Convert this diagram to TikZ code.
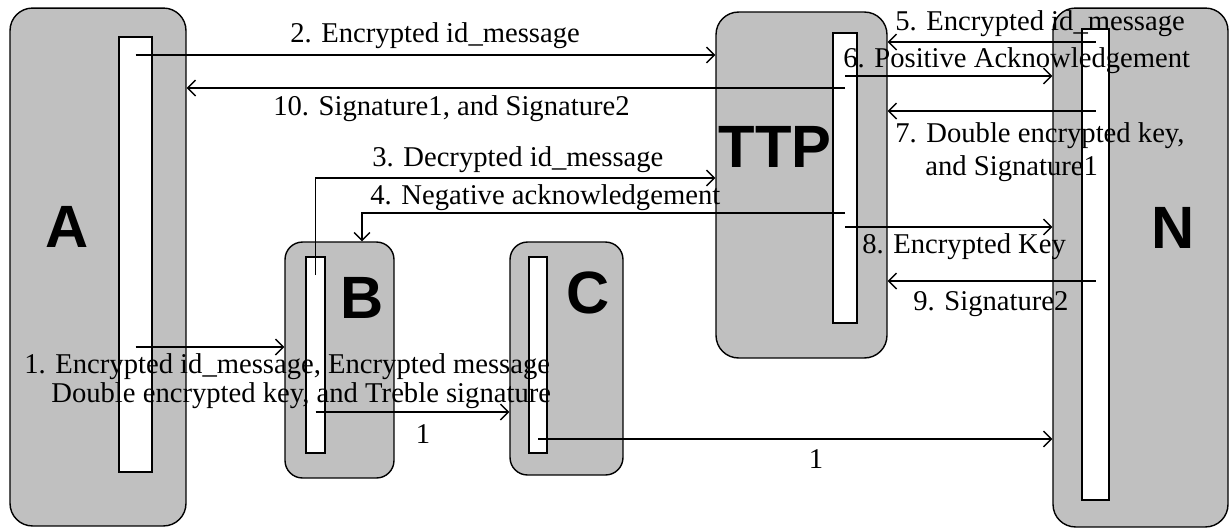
\documentclass[tikz,border=0pt]{standalone}
\usepackage{fontspec}
\setmainfont{Liberation Serif}
\newfontfamily\bigsans{Liberation Sans}
\usetikzlibrary{arrows.meta}
\definecolor{boxgray}{HTML}{C0C0C0}
\tikzset{
  party/.style={draw, line width=0.8pt, fill=boxgray, rounded corners=0.45cm, inner sep=0pt},
  life/.style={draw, line width=0.8pt, fill=white, inner sep=0pt},
  who/.style={font=\bigsans\bfseries\fontsize{34}{34}\selectfont, inner sep=0pt},
  msg/.style={line width=0.8pt, -{Straight Barb[length=4.5pt,width=9pt]}},
  lbl/.style={font=\fontsize{16.3}{17.6}\selectfont, inner sep=0pt, anchor=base west},
}
\begin{document}
\begin{tikzpicture}[x=0.02cm, y=-0.02cm]
  \useasboundingbox (0,0) rectangle (1230,529);
  % the parties
  \node[party, minimum width=3.52cm, minimum height=10.36cm] (A) at (98,267) {};
  \node[party, minimum width=2.18cm, minimum height=4.72cm, rounded corners=0.35cm] (B) at (339.5,360) {};
  \node[party, minimum width=2.26cm, minimum height=4.66cm, rounded corners=0.35cm] (C) at (566.5,358.5) {};
  \node[party, minimum width=3.42cm, minimum height=6.92cm] (TTP) at (801.5,185) {};
  \node[party, minimum width=3.5cm, minimum height=10.38cm] (N) at (1140.5,267.5) {};
  % life lines
  \node[life, minimum width=0.66cm, minimum height=8.7cm] (Abar) at (135.5,254.5) {};
  \node[life, minimum width=0.38cm, minimum height=3.92cm] (Bbar) at (315.5,355) {};
  \node[life, minimum width=0.36cm, minimum height=3.92cm] (Cbar) at (538,355) {};
  \node[life, minimum width=0.48cm, minimum height=5.8cm] (TTPbar) at (845,178) {};
  \node[life, minimum width=0.54cm, minimum height=9.42cm] (Nbar) at (1095.5,264.5) {};
  % names
  \node[who] (Aname) at (67,227) {A};
  \node[who] (Bname) at (362,298) {B};
  \node[who] (Cname) at (588,293) {C};
  \node[who] (TTPname) at (775,147) {TTP};
  \node[who] (Nname) at (1173,228) {N};
  % message levels
  \coordinate (y1) at (0,347);
  \coordinate (y2) at (0,55);
  \coordinate (y3s) at (0,275);
  \coordinate (y3) at (0,178);
  \coordinate (y4) at (0,213);
  \coordinate (x4) at (362,0);
  \coordinate (y5) at (0,42);
  \coordinate (y6) at (0,76);
  \coordinate (y7) at (0,111);
  \coordinate (y8) at (0,227);
  \coordinate (y9) at (0,281);
  \coordinate (y10) at (0,88);
  \coordinate (ybc) at (0,412);
  \coordinate (ycn) at (0,439);
  % messages
  \draw[msg] (Abar.center |- y1) -- (B.west |- y1);
  \draw[msg] (Abar.center |- y2) -- (TTP.west |- y2);
  \draw[msg] (Bbar.center |- y3s) |- (TTP.west |- y3);
  \draw[msg] (TTPbar.center |- y4) -| (B.north -| x4);
  \draw[msg] (Nbar.center |- y5) -- (TTP.east |- y5);
  \draw[msg] (TTPbar.center |- y6) -- (N.west |- y6);
  \draw[msg] (Nbar.center |- y7) -- (TTP.east |- y7);
  \draw[msg] (TTPbar.center |- y8) -- (N.west |- y8);
  \draw[msg] (Nbar.center |- y9) -- (TTP.east |- y9);
  \draw[msg] (TTPbar.center |- y10) -- (A.east |- y10);
  \draw[msg] (Bbar.center |- ybc) -- (C.west |- ybc);
  \draw[msg] (Cbar.center |- ycn) -- (N.west |- ycn);
  % labels
  \node[lbl] (m1a) at (24,373) {1. Encrypted id\_message, Encrypted message};
  \node[lbl] (m1b) at (51,402) {Double encrypted key, and Treble signature};
  \node[lbl] (m2) at (290,42) {2. Encrypted id\_message};
  \node[lbl] (m3) at (372,166) {3. Decrypted id\_message};
  \node[lbl] (m4) at (370,204) {4. Negative acknowledgement};
  \node[lbl] (m5) at (895,30) {5. Encrypted id\_message};
  \node[lbl] (m6) at (843,67) {6. Positive Acknowledgement};
  \node[lbl] (m7a) at (895,142) {7. Double encrypted key,};
  \node[lbl] (m7b) at (925,175) {and Signature1};
  \node[lbl] (m8) at (862,253) {8. Encrypted Key};
  \node[lbl] (m9) at (913,310) {9. Signature2};
  \node[lbl] (m10) at (273,115) {10. Signature1, and Signature2};
  \node[lbl, anchor=base] (mbc) at (423,443) {1};
  \node[lbl, anchor=base] (mcn) at (816,468) {1};
\end{tikzpicture}
\end{document}
